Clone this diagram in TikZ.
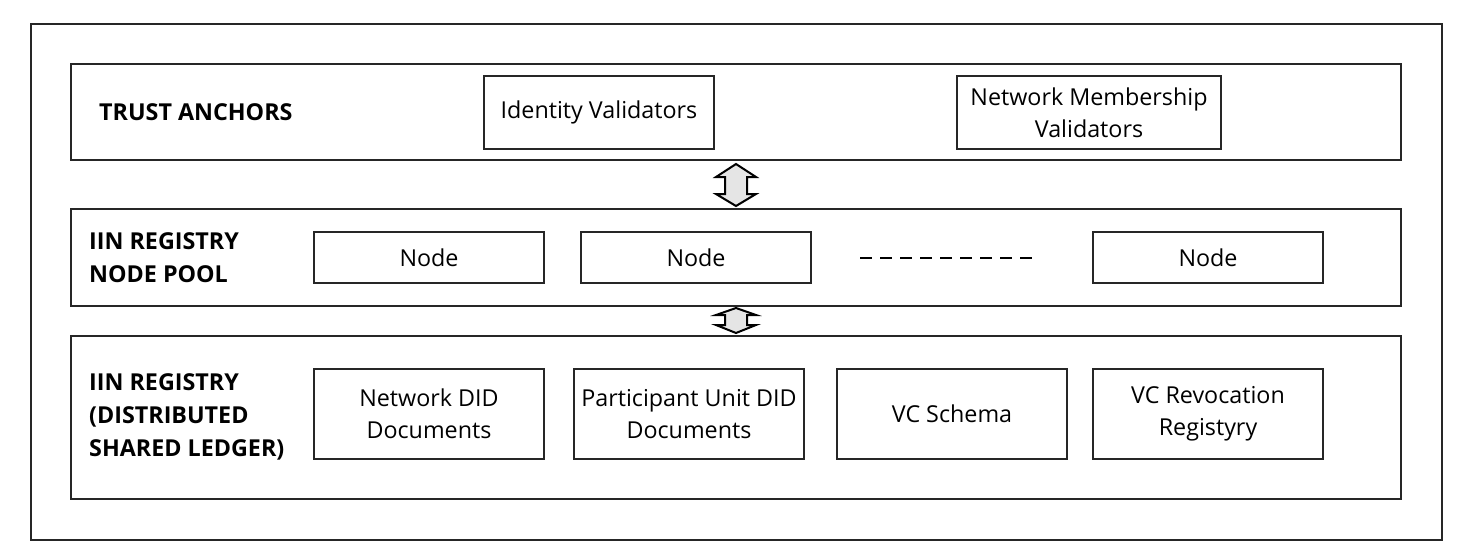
\documentclass[tikz,border=0pt]{standalone}
\usepackage{fontspec}
\setmainfont{Open Sans}
\begin{document}
\begin{tikzpicture}[x=1pt,y=-1pt,
  frame/.style={draw=black!85,line width=2.4pt},
  box/.style={draw=black!85,line width=2pt,minimum width=230pt,inner sep=0pt,align=center,font=\fontsize{23.3}{32}\selectfont},
  lbl/.style={anchor=west,align=left,inner sep=0pt,font=\fontsize{23.3}{33}\selectfont\bfseries},
  dbl/.style={draw=black,line width=2pt,fill=black!10,line join=miter}]
\useasboundingbox (0,0) rectangle (1464,550);
\draw[frame] (31,24) rectangle (1442,540);
% layers
\draw[frame] (71,64) rectangle (1401,160);
\draw[frame] (71,209) rectangle (1401,306);
\draw[frame] (71,336) rectangle (1401,499);
% layer 1
\node[lbl] (ta) at (99,112) {TRUST ANCHORS};
\node[box,minimum height=73pt] (iv) at (599,112.5) {Identity Validators};
\node[box,minimum width=264pt,minimum height=73pt] (nmv) at (1089,112.5) {Network Membership\\Validators};
% layer 2
\node[lbl] (np) at (89,258) {IIN REGISTRY\\NODE POOL};
\node[box,minimum height=51pt] (n1) at (429,257.5) {Node};
\node[box,minimum height=51pt] (n2) at (696,257.5) {Node};
\node[box,minimum height=51pt] (n3) at (1208,257.5) {Node};
\coordinate (d1) at (860,258);
\coordinate (d2) at (1035,258);
\draw[line width=2.6pt,dash pattern=on 12pt off 8pt] (d1) -- (d2);
% layer 3
\node[lbl] (rl) at (89,417) {IIN REGISTRY\\(DISTRIBUTED\\SHARED LEDGER)};
\node[box,minimum height=90pt] (b1) at (429,414) {Network DID\\Documents};
\node[box,minimum height=90pt] (b2) at (689,414) {Participant Unit DID\\Documents};
\node[box,minimum height=90pt] (b3) at (952,414) {VC Schema};
\node[box,minimum height=90pt] (b4) at (1208,414) {VC Revocation\\Registyry};
% arrows
\draw[dbl] (736,164) -- (756,177) -- (747,177) -- (747,194) -- (756,194) -- (736,206) -- (716,194) -- (725,194) -- (725,177) -- (716,177) -- cycle;
\draw[dbl] (736,308) -- (756,315) -- (747,315) -- (747,325) -- (756,325) -- (736,333) -- (716,325) -- (725,325) -- (725,315) -- (716,315) -- cycle;
\end{tikzpicture}
\end{document}
